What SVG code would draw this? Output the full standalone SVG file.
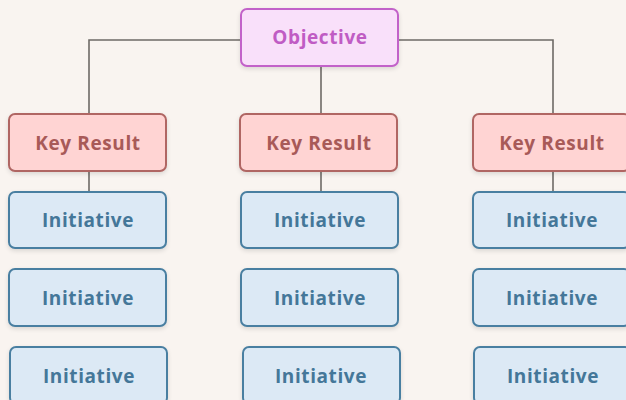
<svg xmlns="http://www.w3.org/2000/svg" width="626" height="400" viewBox="0 0 626 400">
  <defs>
    <filter id="shadow" x="-10%" y="-10%" width="120%" height="140%">
      <feDropShadow dx="0" dy="2" stdDeviation="2" flood-color="#000" flood-opacity="0.12"/>
    </filter>
  </defs>
  <style>
    .box { stroke-width: 2; filter: url(#shadow); }
    .obj { fill: #f9e0fa; stroke: #c262c9; }
    .kr { fill: #ffd4d3; stroke: #b06664; }
    .ini { fill: #dce9f5; stroke: #4a7fa1; }
    text { font-family: "Open Sans", "Lato", sans-serif; font-weight: 700; font-size: 19px; text-anchor: middle; letter-spacing: 0.6px; }
    .tobj { fill: #c05cc4; }
    .tkr { fill: #a85a58; }
    .tini { fill: #447799; }
    .conn { fill: none; stroke: #6e6a66; stroke-width: 1.6; }
  </style>
  <rect width="626" height="400" fill="#f9f4f0"/>

  <g id="connectors">
    <path class="conn" d="M241 40 H89 V114"/>
    <path class="conn" d="M398 40 H553 V114"/>
    <path class="conn" d="M321 66 V114"/>
    <path class="conn" d="M89 171 V192"/>
    <path class="conn" d="M321 171 V192"/>
    <path class="conn" d="M553 171 V192"/>
  </g>

  <g id="objective">
    <rect class="box obj" x="241" y="9" width="157" height="57" rx="6"/>
    <text class="tobj" x="320" y="43.5">Objective</text>
  </g>

  <g id="kr1">
    <rect class="box kr" x="9" y="114" width="157" height="57" rx="6"/>
    <text class="tkr" x="88" y="149.5">Key Result</text>
  </g>
  <g id="kr2">
    <rect class="box kr" x="240" y="114" width="157" height="57" rx="6"/>
    <text class="tkr" x="319" y="149.5">Key Result</text>
  </g>
  <g id="kr3">
    <rect class="box kr" x="473" y="114" width="157" height="57" rx="6"/>
    <text class="tkr" x="552" y="149.5">Key Result</text>
  </g>

  <g id="ini1a">
    <rect class="box ini" x="9" y="192" width="157" height="56" rx="6"/>
    <text class="tini" x="88" y="227">Initiative</text>
  </g>
  <g id="ini2a">
    <rect class="box ini" x="241" y="192" width="157" height="56" rx="6"/>
    <text class="tini" x="320" y="227">Initiative</text>
  </g>
  <g id="ini3a">
    <rect class="box ini" x="473" y="192" width="157" height="56" rx="6"/>
    <text class="tini" x="552" y="227">Initiative</text>
  </g>

  <g id="ini1b">
    <rect class="box ini" x="9" y="269" width="157" height="57" rx="6"/>
    <text class="tini" x="88" y="305">Initiative</text>
  </g>
  <g id="ini2b">
    <rect class="box ini" x="241" y="269" width="157" height="57" rx="6"/>
    <text class="tini" x="320" y="305">Initiative</text>
  </g>
  <g id="ini3b">
    <rect class="box ini" x="473" y="269" width="157" height="57" rx="6"/>
    <text class="tini" x="552" y="305">Initiative</text>
  </g>

  <g id="ini1c">
    <rect class="box ini" x="10" y="347" width="157" height="57" rx="6"/>
    <text class="tini" x="89" y="383">Initiative</text>
  </g>
  <g id="ini2c">
    <rect class="box ini" x="243" y="347" width="157" height="57" rx="6"/>
    <text class="tini" x="321" y="383">Initiative</text>
  </g>
  <g id="ini3c">
    <rect class="box ini" x="474" y="347" width="157" height="57" rx="6"/>
    <text class="tini" x="553" y="383">Initiative</text>
  </g>
</svg>
